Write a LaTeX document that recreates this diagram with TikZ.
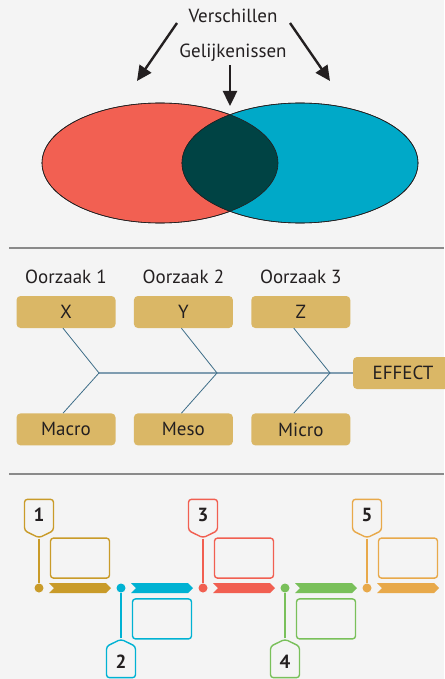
\documentclass[tikz,border=0pt]{standalone}
\usepackage{fontspec}
\setmainfont{PT Sans}
\usepackage{xcolor}
\usepackage{tikz}
\usetikzlibrary{shapes,arrows.meta,positioning}

\definecolor{bg}{HTML}{F4F4F4}
\definecolor{ink}{HTML}{231F20}
\definecolor{vred}{HTML}{F26052}
\definecolor{vblue}{HTML}{00A9C8}
\definecolor{vdark}{HTML}{004344}
\definecolor{fish}{HTML}{DAB766}
\definecolor{bone}{HTML}{3E6E88}
\definecolor{spinec}{HTML}{7F9CB0}
\definecolor{rule}{HTML}{8A8A8A}
\definecolor{cgold}{HTML}{C99B29}
\definecolor{ccyan}{HTML}{00B2D3}
\definecolor{cred}{HTML}{F15F51}
\definecolor{cgreen}{HTML}{79C05A}
\definecolor{corange}{HTML}{E8A94A}

\begin{document}
\begin{tikzpicture}[x=1pt, y=-1pt,
    txt/.style={font=\fontsize{19}{22}\selectfont, text=ink},
    bigarrow/.style={-{Triangle[length=15pt,width=14pt]}, line width=2.4pt, draw=ink},
    fishbox/.style={fill=fish, rounded corners=4pt, minimum width=99pt, minimum height=32pt, inner sep=0pt, txt},
    boneline/.style={draw=bone, line width=0.8pt},
    spine/.style={draw=spinec, line width=1.6pt},
    chev/.style={signal, signal to=east, signal from=west, minimum width=62pt, minimum height=10pt, inner sep=0pt},
    infobox/.style={draw, line width=1.4pt, rounded corners=3pt, minimum width=59pt, minimum height=40pt},
    pin/.style={circle, inner sep=0pt, minimum size=9pt},
    numtag/.style={signal, signal pointer angle=128, draw, fill=bg, line width=1.4pt, rounded corners=3pt,
        minimum width=29pt, minimum height=34pt, inner sep=0pt, text=ink, font=\fontsize{19}{22}\selectfont\bfseries}
  ]
    \useasboundingbox (0,0) rectangle (444,679);
    \fill[bg] (0,0) rectangle (444,679);

    % Venn diagram
    \node[txt] (verschil) at (233,16) {Verschillen};
    \node[txt] (gelijk) at (233,53) {Gelijkenissen};
    \node[ellipse, draw=ink, fill=vred, line width=0.6pt, minimum width=236pt, minimum height=120pt] (links) at (160,163) {};
    \node[ellipse, draw=ink, fill=vblue, line width=0.6pt, minimum width=236pt, minimum height=120pt] (rechts) at (300,163) {};
    \begin{scope}
        \clip (160,163) ellipse [x radius=118pt, y radius=60pt];
        \fill[vdark] (300,163) ellipse [x radius=118pt, y radius=60pt];
    \end{scope}
    \draw[ink, line width=0.6pt] (160,163) ellipse [x radius=118pt, y radius=60pt];
    \draw[ink, line width=0.6pt] (300,163) ellipse [x radius=118pt, y radius=60pt];

    \coordinate (vL) at (177,23);
    \coordinate (vR) at (290,23);
    \coordinate (pL) at (137,81);
    \coordinate (pR) at (330,81);
    \coordinate (pM) at (230,106);
    \draw[bigarrow] (vL) -- (pL);
    \draw[bigarrow] (vR) -- (pR);
    \draw[bigarrow] (gelijk.south -| pM) -- (pM);

    \draw[rule, line width=1.5pt] (9,248) -- (444,248);

    % Fishbone
    \node[fishbox] (X) at (66,312) {X};
    \node[fishbox, right=18pt of X] (Y) {Y};
    \node[fishbox, right=18pt of Y] (Z) {Z};
    \node[fishbox, below=85pt of X] (macro) {Macro};
    \node[fishbox, below=85pt of Y] (meso) {Meso};
    \node[fishbox, below=85pt of Z] (micro) {Micro};
    \node[fishbox, minimum width=100pt] (eff) at (403,373) {EFFECT};

    \node[txt, above=9pt of X] (ooz1) {Oorzaak 1};
    \node[txt, above=9pt of Y] (ooz2) {Oorzaak 2};
    \node[txt, above=9pt of Z] (ooz3) {Oorzaak 3};

    \coordinate (j1) at (99,373);
    \coordinate (j2) at (217,373);
    \coordinate (j3) at (330,373);
    \draw[spine] (j1) -- (eff.west);
    \draw[boneline] ([xshift=-3pt]X.south) -- (j1) -- ([xshift=-3pt]macro.north);
    \draw[boneline] ([xshift=-2pt]Y.south) -- (j2) -- ([xshift=-2pt]meso.north);
    \draw[boneline] ([xshift=-7pt]Z.south) -- (j3) -- ([xshift=-7pt]micro.north);

    \draw[rule, line width=1.5pt] (9,474) -- (444,474);

    % Timeline
    \node[chev, fill=cgold] (arr1) at (80,588) {};
    \node[chev, fill=ccyan] (arr2) at (162,588) {};
    \node[chev, fill=cred] (arr3) at (244,588) {};
    \node[chev, fill=cgreen] (arr4) at (326,588) {};
    \node[chev, fill=corange] (arr5) at (408,588) {};

    \node[pin, fill=cgold] (p1) at (39,588) {};
    \node[pin, fill=ccyan] (p2) at (121,588) {};
    \node[pin, fill=cred] (p3) at (203,588) {};
    \node[pin, fill=cgreen] (p4) at (285,588) {};
    \node[pin, fill=corange] (p5) at (367,588) {};

    \node[infobox, draw=cgold, above=4pt of arr1] (box1) {};
    \node[infobox, draw=ccyan, below=5pt of arr2] (box2) {};
    \node[infobox, draw=cred, above=4pt of arr3] (box3) {};
    \node[infobox, draw=cgreen, below=5pt of arr4] (box4) {};
    \node[infobox, draw=corange, above=4pt of arr5] (box5) {};

    \node[numtag, signal to=south, signal from=nowhere, draw=cgold] (t1) at (39,515) {1};
    \node[numtag, signal to=north, signal from=nowhere, draw=ccyan] (t2) at (121,662) {2};
    \node[numtag, signal to=south, signal from=nowhere, draw=cred] (t3) at (203,515) {3};
    \node[numtag, signal to=north, signal from=nowhere, draw=cgreen] (t4) at (285,662) {4};
    \node[numtag, signal to=south, signal from=nowhere, draw=corange] (t5) at (367,515) {5};

    \draw[cgold, line width=1.4pt] (t1.south) -- (p1);
    \draw[ccyan, line width=1.4pt] (t2.north) -- (p2);
    \draw[cred, line width=1.4pt] (t3.south) -- (p3);
    \draw[cgreen, line width=1.4pt] (t4.north) -- (p4);
    \draw[corange, line width=1.4pt] (t5.south) -- (p5);
\end{tikzpicture}
\end{document}
